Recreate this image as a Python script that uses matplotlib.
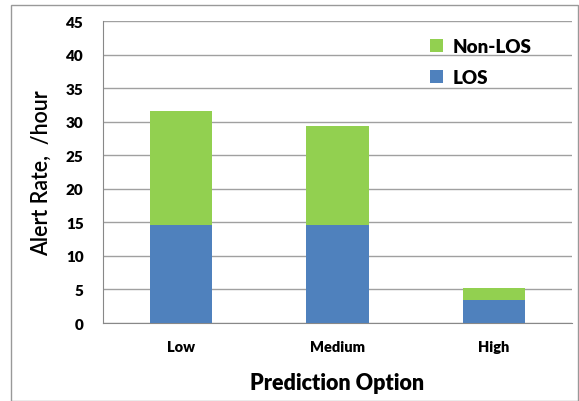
import matplotlib.pyplot as plt
from matplotlib.patches import Rectangle
import numpy as np

categories = ['Low', 'Medium', 'High']
los = [14.6, 14.6, 3.4]
non_los = [17.0, 14.8, 1.8]

plt.rcParams['font.family'] = ['Lato', 'DejaVu Sans']

fig = plt.figure(figsize=(5.79, 4.02), dpi=100)
ax = fig.add_axes([0.178, 0.194, 0.81, 0.751])

x = np.arange(len(categories))
ax.bar(x, los, width=0.4, color='#4F81BD', label='LOS', zorder=3)
ax.bar(x, non_los, width=0.4, bottom=los, color='#92D050', label='Non-LOS', zorder=3)

ax.set_ylim(0, 45)
ax.set_yticks(range(0, 46, 5))
ax.set_xlim(-0.5, 2.5)
ax.set_xticks(x)
ax.set_xticklabels(categories, fontweight='heavy', fontsize=10.5)
for t in ax.get_yticklabels():
    t.set_fontweight('heavy')
    t.set_fontsize(11)
ax.tick_params(axis='x', length=0, pad=12)
ax.tick_params(axis='y', length=0, pad=14)
ax.yaxis.grid(True, color='#A0A0A0', linewidth=1, zorder=0)
for s in ['top', 'right']:
    ax.spines[s].set_visible(False)
ax.spines['left'].set_color('#888888')
ax.spines['bottom'].set_color('#888888')

ax.set_xlabel('Prediction Option', fontsize=15.5, fontweight='heavy', labelpad=14)
ax.set_ylabel('Alert Rate,  /hour', fontsize=15.5, fontweight='semibold', labelpad=10)

handles, labels = ax.get_legend_handles_labels()
ax.legend(handles[::-1], labels[::-1], loc='upper right', frameon=False,
          prop={'weight': 'heavy', 'size': 13.5}, handlelength=0.7, handleheight=0.7,
          handletextpad=0.5, labelspacing=0.75, bbox_to_anchor=(0.95, 1.0))

fig.patches.append(Rectangle((11 / 579, 0.0), 1 - 11 / 579 - 0.002, 1 - 6 / 402,
                             transform=fig.transFigure, fill=False,
                             edgecolor='#999999', linewidth=1))

fig.savefig('out.png', dpi=100)
